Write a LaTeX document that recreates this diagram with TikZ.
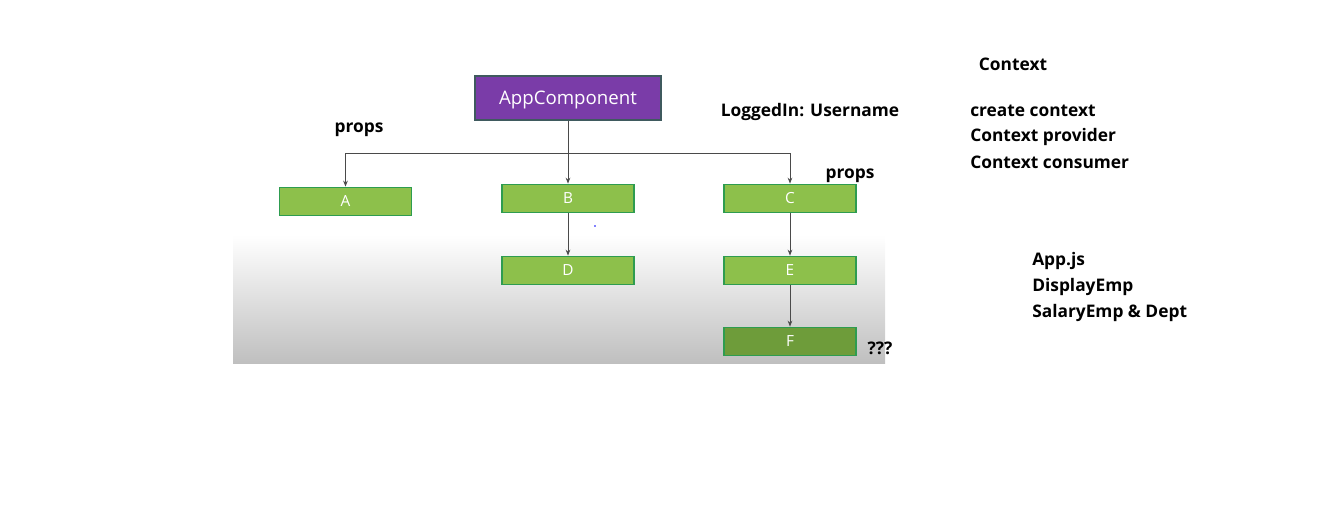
\documentclass[tikz,border=0pt]{standalone}
\usepackage{fontspec}
\setmainfont{Open Sans}
\usetikzlibrary{arrows.meta,positioning,calc}
\definecolor{AppPurple}{HTML}{7A3CA8}
\definecolor{AppEdge}{HTML}{3F5A5E}
\definecolor{NodeGreen}{HTML}{8DC04B}
\definecolor{NodeDark}{HTML}{6E9C3A}
\definecolor{NodeEdge}{HTML}{2E9C50}
\definecolor{LinkGray}{HTML}{4A4A4A}
\tikzset{comp/.style={draw=NodeEdge,line width=1.3pt,fill=NodeGreen,text=white,minimum width=99pt,minimum height=21pt,inner sep=0pt,font=\fontsize{11.5}{13}\selectfont},
arr/.style={-{Stealth[length=4.5pt,width=3.5pt]},LinkGray,line width=.7pt},
note/.style={font=\fontsize{13}{15}\selectfont\bfseries,inner sep=0pt}}

\begin{document}
\begin{tikzpicture}[x=.75pt,y=-.75pt]
\useasboundingbox (0,0) rectangle (1339,525);
\shade[top color=white,bottom color=black!25] (233,235) rectangle (885,363);
\node[draw=AppEdge,line width=1.3pt,fill=AppPurple,text=white,minimum width=139pt,minimum height=33pt,inner sep=0pt,text height=12pt,text depth=2.5pt,font=\fontsize{14}{16}\selectfont] (app) at (568,98) {AppComponent};
\node[comp] (a) at (345.5,201.5) {A};
\node[comp] (b) at (568,198.5) {B};
\node[comp] (c) at (790,198.5) {C};
\node[comp] (d) at (568,270.5) {D};
\node[comp] (e) at (790,270.5) {E};
\node[comp,fill=NodeDark] (f) at (790,341.5) {F};
\coordinate (split) at (568,153);
\draw[LinkGray,line width=.7pt] (app.south) -- (split);
\draw[arr] (split) -| (a.north);
\draw[arr] (split) -| (c.north);
\draw[arr] (app.south) -- (b.north);
\draw[arr] (b.south) -- (d.north);
\draw[arr] (c.south) -- (e.north);
\draw[arr] (e.south) -- (f.north);
\fill[blue] (595,226) circle (.8);
% labels
\node[note] (props1) at (359,130) {props};
\node[note] (login) at (810,112) {LoggedIn: Username};
\node[note] (props2) at (850,176) {props};
\node[note] (ask) at (880,348) {???};
\node[note] (ctx) at (1013,64) {Context};
\node[note,anchor=west] (ctx1) at (970,111) {create context};
\node[note,anchor=west] (ctx2) at (970,137) {Context provider};
\node[note,anchor=west] (ctx3) at (970,162) {Context consumer};
\node[note,anchor=west] (file1) at (1032,261) {App.js};
\node[note,anchor=west] (file2) at (1032,287) {DisplayEmp};
\node[note,anchor=west] (file3) at (1032,313) {SalaryEmp \& Dept};
\end{tikzpicture}
\end{document}
